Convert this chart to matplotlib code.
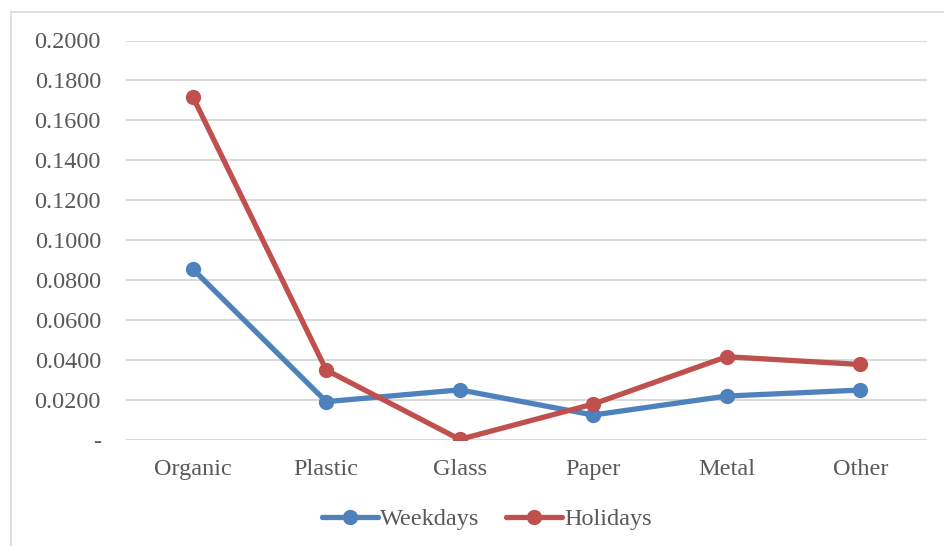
import matplotlib
matplotlib.use("Agg")
import matplotlib.pyplot as plt
from matplotlib.lines import Line2D
from matplotlib.ticker import FixedLocator, FuncFormatter

categories = ["Organic", "Plastic", "Glass", "Paper", "Metal", "Other"]
weekdays = [0.0856, 0.0192, 0.0251, 0.0125, 0.0220, 0.0250]
holidays = [0.1719, 0.0350, 0.0003, 0.0180, 0.0417, 0.0378]
y_ticks = [0.0, 0.02, 0.04, 0.06, 0.08, 0.10, 0.12, 0.14, 0.16, 0.18, 0.20]

BLUE = "#4F81BD"
RED = "#C0504D"
TEXT = "#595959"
GRID = "#D9D9D9"

plt.rcParams["font.family"] = ["Liberation Serif", "DejaVu Serif"]

fig = plt.figure(figsize=(9.45, 5.46), dpi=100)
ax = fig.add_axes([126 / 945, 1 - 440 / 546, 801 / 945, 399.5 / 546])

# chart frame (left and top edges visible)
fig.add_artist(Line2D([10.5 / 945, 10.5 / 945], [0, 1 - 12 / 546],
                      transform=fig.transFigure, color=GRID, lw=1.2))
fig.add_artist(Line2D([10.5 / 945, 1], [1 - 12 / 546, 1 - 12 / 546],
                      transform=fig.transFigure, color=GRID, lw=1.2))

x = list(range(len(categories)))
ax.plot(x, weekdays, color=BLUE, lw=3.8, marker="o", ms=10,
        solid_capstyle="round", label="Weekdays", zorder=3)
ax.plot(x, holidays, color=RED, lw=3.8, marker="o", ms=10,
        solid_capstyle="round", label="Holidays", zorder=4)

ax.set_xlim(-0.5, len(categories) - 0.5)
ax.set_ylim(0, 0.2)
ax.yaxis.set_major_locator(FixedLocator(y_ticks))
ax.yaxis.set_major_formatter(FuncFormatter(
    lambda v, p: "-" if abs(v) < 1e-12 else f"{v:.4f}"))
ax.set_xticks(x)
ax.set_xticklabels(categories)

ax.grid(axis="y", color=GRID, lw=1.5)
ax.set_axisbelow(True)
for s in ax.spines.values():
    s.set_visible(False)
ax.tick_params(axis="both", length=0, labelsize=17.5, colors=TEXT)
ax.tick_params(axis="y", pad=18)
ax.tick_params(axis="x", pad=14)

leg = fig.legend(loc="center", bbox_to_anchor=(487 / 945, 1 - 519 / 546), ncol=2,
                 frameon=False, fontsize=17.5, handlelength=2.3,
                 handletextpad=0.1, columnspacing=1.1, labelcolor=TEXT)

fig.savefig("out.png", dpi=100)
